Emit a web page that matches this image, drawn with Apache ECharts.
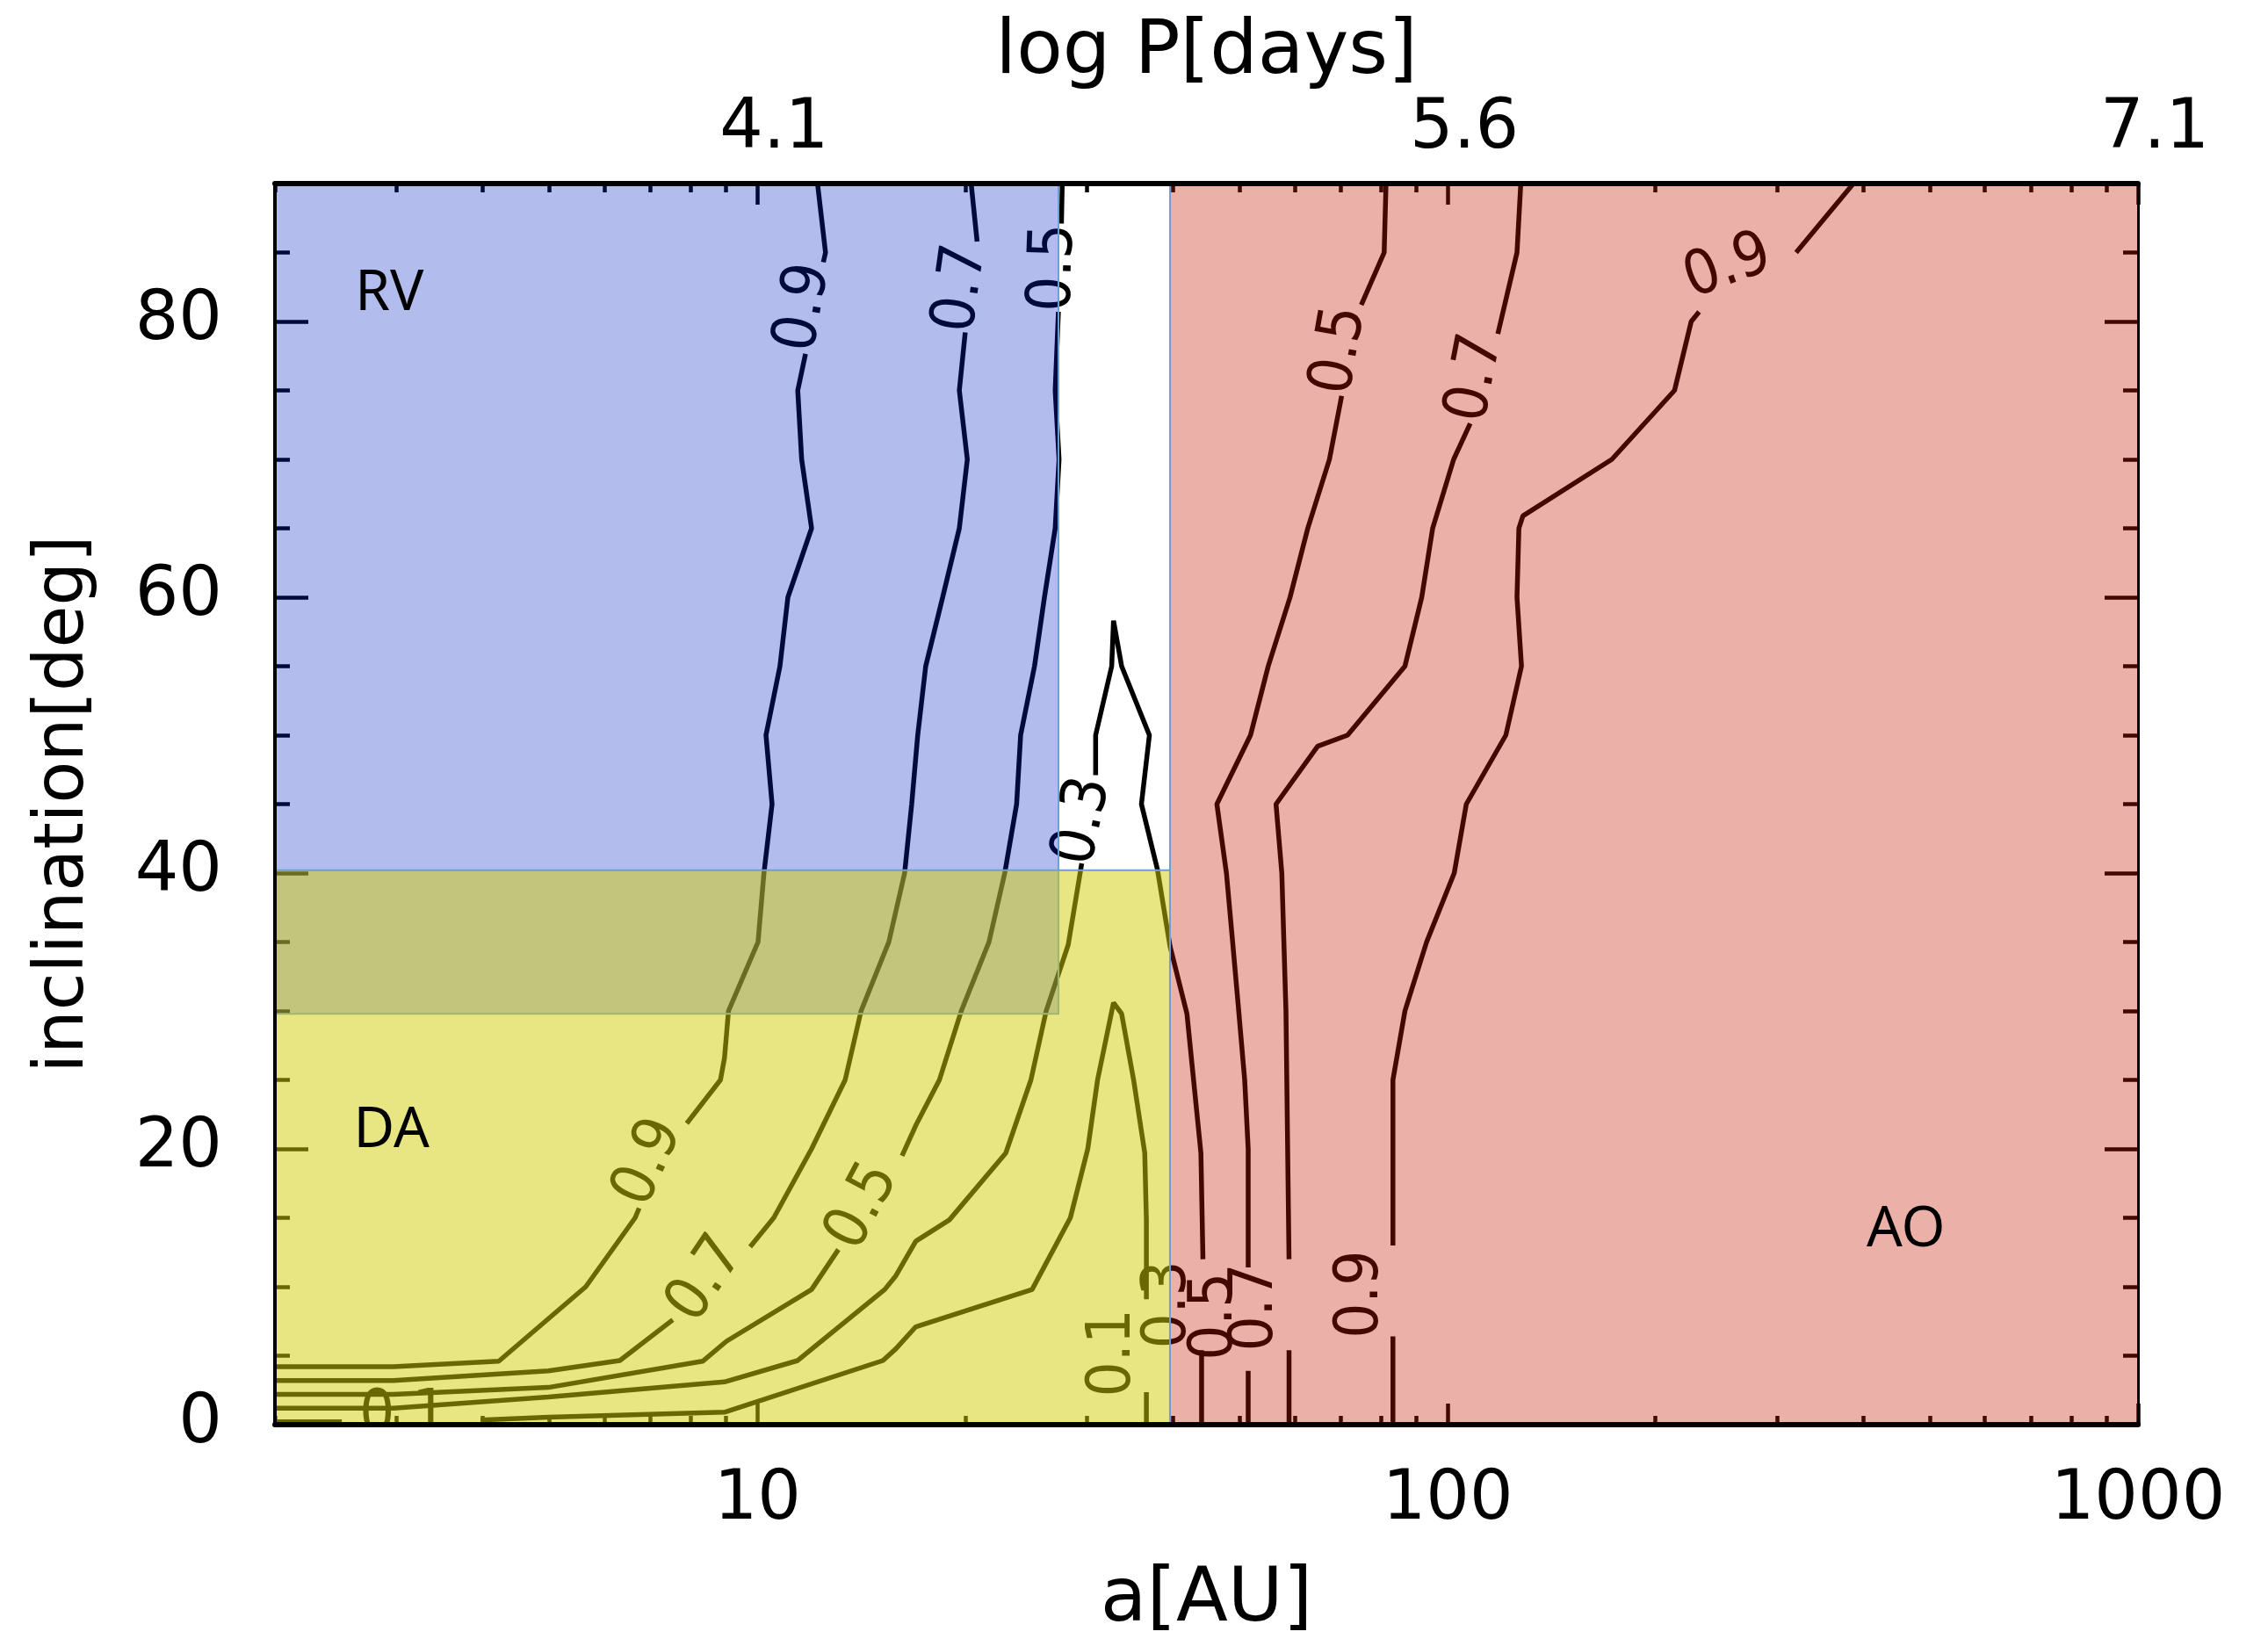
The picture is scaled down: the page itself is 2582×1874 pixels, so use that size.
<!DOCTYPE html>
<html><head><meta charset="utf-8">
<script src="https://cdn.jsdelivr.net/npm/echarts@6/dist/echarts.min.js"></script>
<style>html,body{margin:0;padding:0;background:#fff}#c{width:2582px;height:1874px}</style>
</head><body><div id="c"></div>
<script>
// ---------------- data ----------------
const xMajor = [10, 100, 1000];
const xMinor = [2,3,4,5,6,7,8,9,20,30,40,50,60,70,80,90,200,300,400,500,600,700,800,900];
const topTickLabels = ['4.1', '5.6', '7.1'];
const yMajor = [0, 20, 40, 60, 80];
const yMinor = [5,10,15,25,30,35,45,50,55,65,70,75,85];

// contour polylines: [a (AU), inclination (deg)]; null = gap where a label sits
const c09_rvda = [[12.22,90],[12.55,85],[12.46,84.3],null,[11.74,77.65],[11.44,75],[11.59,70],[11.98,65],[11.07,60],[10.78,55],[10.29,50],[10.50,45],[10.22,40],[10.02,35],[9.08,30],[8.96,26.6],[8.84,25],[7.90,21.85],null,[6.74,15.7],[6.65,15],[5.64,10],[4.22,4.6],[2.97,4.2],[2.0,4.2]];
const c07_rvda = [[20.4,90],[20.81,85.8],null,[20.0,79.2],[19.61,75],[20.14,70],[19.61,65],[18.55,60],[17.53,55],[17.07,50],[16.73,45],[16.34,40],[15.50,35],[14.13,30],[13.40,25],[11.98,20],[10.56,15],[9.76,12.9],null,[7.54,7.6],[6.32,4.65],[4.98,3.9],[2.97,3.2],[2.0,3.2]];
const c05_rvda = [[27.64,90],[27.57,87.1],null,[27.29,80.7],[27.0,75],[27.35,70],[27.0,65],[26.05,60],[25.2,55],[24.06,50],[23.74,45],[22.82,40],[21.65,35],[19.74,30],[18.35,25],[16.96,21.7],[16.2,19.5],null,[13.1,12.7],[11.98,9.8],[9.02,6.05],[8.33,4.6],[4.98,2.7],[2.97,2.2],[2.0,2.2]];
const c03 = [[44.0,0],[44.0,5.4],null,[44.2,12.0],[43.9,19.7],[41.9,29.8],[39.6,34.7],[37.96,40.3],[36.0,45],[36.97,50],[33.7,55],[32.8,58.3],[32.6,55],[30.9,50],[30.9,47.1],null,[29.5,40.7],[28.2,34.8],[26.2,30],[24.9,25],[22.9,19.7],[18.97,14.85],[16.96,13.3],[15.87,10.8],[15.29,9.8],[11.44,4.65],[8.96,3.1],[4.98,2.0],[2.97,1.2],[2.0,1.2]];
const c01 = [[36.6,0],[36.6,2.35],null,[36.6,9.1],[36.6,14.85],[36.4,19.7],[35.1,24.9],[33.7,29.8],[32.8,30.6],[31.1,25],[30.1,20],[28.4,15],[25.0,9.8],[16.96,7.1],[15.87,5.5],[15.2,4.65],[8.96,0.9],[4.98,0.54],[3.97,0.34],null,[2.5,0.2],[2.0,0.2]];
const c05_ao = [[81.4,90],[80.9,85],[74.95,81.2],null,[70.2,74.6],[67.4,70],[62.7,65],[59.1,60],[54.95,55],[51.8,50],[46.3,45],[47.8,40],[48.8,35],[49.8,30],[50.8,25],[51.4,20],[51.4,11.4],null,[51.4,3.9],[51.4,0]];
const c07_ao = [[127.6,90],[126.0,85],[118.2,79.1],null,[107.8,72.6],[102.0,70],[95.1,65],[91.7,60],[86.7,55],[71.6,50],[64.8,49.2],[56.4,45],[57.5,40],[58.3,30],[58.9,12.0],null,[58.9,5.4],[58.9,0]];
const c09_ao = [[387,90],[319.7,85],null,[231.3,80.7],[225.3,80],[213.1,75],[172.9,70],[128.5,65.9],[126.8,65],[126.0,60],[127.9,55],[121.4,50],[106.4,45],[102.2,40],[93.2,35],[86.7,30],[83.3,25],[83.3,13.0],null,[83.3,6.4],[83.3,0]];
const contours = [c09_rvda, c07_rvda, c05_rvda, c03, c01, c05_ao, c07_ao, c09_ao];

// contour labels
const labelText = ['0.9','0.7','0.5','0.3','0.9','0.7','0.5','0.5','0.7','0.9','0.1','0.3','0.5','0.7','0.9','0.1'];
const labelA    = [11.70,19.79,26.96,29.71,6.97,8.44,14.24,69.9,110.0,254.7,32.8,39.5,46.1,52.8,74.97,3.07];
const labelInc  = [81.0,82.4,83.9,43.76,19.0,10.5,15.8,77.9,75.9,83.9,5.2,8.7,7.85,8.5,9.44,0.6];
const labelAngle= [80,82,88,78,66,56,62,80,79,20,90,90,90,90,90,0];

// method regions: RV, DA, AO
const regionName = ['RV','DA','AO'];
const regionA0 = [2, 2, 39.6];
const regionA1 = [27.3, 39.6, 1000];
const regionI0 = [29.8, 0, 0];
const regionI1 = [90, 40.2, 90];
const regionLabelA = [2.93, 2.95, 461];
const regionLabelI = [82.0, 21.3, 14.1];

// ---------------- styles ----------------
const regionFill = ['rgba(0,35,198,0.30)', 'rgba(209,205,7,0.50)', 'rgba(196,23,0,0.34)'];
const FONT = '"DejaVu Sans", sans-serif';
const CFONT = '"DejaVu Sans Condensed", "Liberation Sans Narrow", "DejaVu Sans", sans-serif';

const chart = echarts.init(document.getElementById('c'), null, {renderer: 'canvas'});

function splitSegments(arr) {
  const segs = []; let cur = [];
  arr.forEach(p => { if (p === null) { if (cur.length) segs.push(cur); cur = []; } else cur.push(p); });
  if (cur.length) segs.push(cur);
  return segs;
}

const series = [];
contours.forEach((c) => {
  splitSegments(c).forEach(seg => {
    series.push({
      type: 'line', xAxisIndex: 0, yAxisIndex: 0, data: seg, showSymbol: false, symbol: 'none',
      lineStyle: {color: '#000', width: 5.5}, z: 2, clip: true, silent: true, animation: false
    });
  });
});

// contour labels (drawn under the tint)
series.push({
  type: 'custom', xAxisIndex: 0, yAxisIndex: 0, z: 3, clip: true, silent: true, animation: false,
  data: labelA.map((a, i) => [a, labelInc[i]]),
  renderItem: function (params, api) {
    const p = api.coord([api.value(0), api.value(1)]);
    const i = params.dataIndex;
    return {
      type: 'text', x: p[0], y: p[1], rotation: labelAngle[i] * Math.PI / 180,
      style: {text: labelText[i], fill: '#000', font: '70px ' + CFONT,
        align: 'center', verticalAlign: 'middle', textAlign: 'center', textVerticalAlign: 'middle'}
    };
  }
});

// tinted method regions
series.push({
  type: 'custom', xAxisIndex: 0, yAxisIndex: 0, z: 5, clip: true, silent: true, animation: false,
  encode: {x: [0, 1], y: [2, 3]},
  data: regionA0.map((a, i) => [a, regionA1[i], regionI0[i], regionI1[i]]),
  renderItem: function (params, api) {
    const p0 = api.coord([api.value(0), api.value(3)]);
    const p1 = api.coord([api.value(1), api.value(2)]);
    return {
      type: 'rect', shape: {x: p0[0], y: p0[1], width: p1[0] - p0[0], height: p1[1] - p0[1]},
      style: {fill: regionFill[params.dataIndex], stroke: '#6c9fd6', lineWidth: 2}
    };
  }
});

// region names
series.push({
  type: 'custom', xAxisIndex: 0, yAxisIndex: 0, z: 6, clip: true, silent: true, animation: false,
  data: regionLabelA.map((a, i) => [a, regionLabelI[i]]),
  renderItem: function (params, api) {
    const p = api.coord([api.value(0), api.value(1)]);
    return {
      type: 'text', x: p[0], y: p[1],
      style: {text: regionName[params.dataIndex], fill: '#000', font: '64px "Noto Sans", "Open Sans", sans-serif',
        align: 'center', verticalAlign: 'middle', textAlign: 'center', textVerticalAlign: 'middle'}
    };
  }
});

const tickStyle = {color: '#000', width: 4.5};
const labelFont = {fontFamily: FONT, fontSize: 78, color: '#000'};
const wideNameFont = {fontFamily: FONT, fontSize: 86, color: '#000'};
function xAx(pos, opts) {
  return Object.assign({
    type: 'log', logBase: 10, min: 2, max: 1000, position: pos, gridIndex: 0,
    axisLine: {show: false, onZero: false}, splitLine: {show: false}, axisLabel: {show: false},
    axisTick: {show: false}, z: 1, silent: true
  }, opts);
}
function yAx(pos, opts) {
  return Object.assign({
    type: 'value', min: 0, max: 90, position: pos, gridIndex: 0,
    axisLine: {show: false, onZero: false}, splitLine: {show: false}, axisLabel: {show: false},
    axisTick: {show: false}, z: 1, silent: true
  }, opts);
}
const border = (w) => ({show: true, onZero: false, lineStyle: {color: '#000', width: w}});

const option = {
  backgroundColor: '#fff',
  animation: false,
  grid: {left: 313, right: 148, top: 209, bottom: 252, containLabel: false, outerBoundsMode: 'none', show: false},
  xAxis: [
    xAx('bottom', {
      axisTick: {show: true, inside: true, length: 24, lineStyle: tickStyle, customValues: xMajor},
      axisLabel: Object.assign({show: true, margin: 48, customValues: xMajor, showMinLabel: true, showMaxLabel: true,
        formatter: v => String(Math.round(v))}, labelFont),
      name: 'a[AU]', nameLocation: 'middle', nameGap: 158, nameTextStyle: wideNameFont
    }),
    xAx('bottom', {axisTick: {show: true, inside: true, length: 10, lineStyle: tickStyle, customValues: xMinor}}),
    xAx('top', {
      axisTick: {show: true, inside: true, length: 24, lineStyle: tickStyle, customValues: xMajor},
      axisLabel: Object.assign({show: true, margin: 22, customValues: xMajor, showMinLabel: true, showMaxLabel: true,
        padding: [0, 0, 0, 38],
        formatter: v => topTickLabels[Math.round(Math.log10(v)) - 1]}, labelFont),
      name: 'log P[days]', nameLocation: 'middle', nameGap: 88, nameTextStyle: wideNameFont
    }),
    xAx('top', {axisTick: {show: true, inside: true, length: 10, lineStyle: tickStyle, customValues: xMinor}}),
    xAx('bottom', {axisLine: border(6), z: 10}),
    xAx('top', {axisLine: border(6), z: 10})
  ],
  yAxis: [
    yAx('left', {
      axisTick: {show: true, inside: true, length: 38, lineStyle: tickStyle, customValues: yMajor},
      axisLabel: Object.assign({show: true, margin: 60, customValues: yMajor, showMinLabel: true, showMaxLabel: true}, labelFont),
      name: 'inclination[deg]', nameLocation: 'middle', nameGap: 200, nameRotate: 90, nameTextStyle: labelFont
    }),
    yAx('left', {axisTick: {show: true, inside: true, length: 17, lineStyle: tickStyle, customValues: yMinor}}),
    yAx('right', {axisTick: {show: true, inside: true, length: 38, lineStyle: tickStyle, customValues: yMajor}}),
    yAx('right', {axisTick: {show: true, inside: true, length: 17, lineStyle: tickStyle, customValues: yMinor}}),
    yAx('left', {axisLine: border(4), z: 10}),
    yAx('right', {axisLine: border(3), z: 10})
  ],
  series: series
};
chart.setOption(option);
</script></body></html>
